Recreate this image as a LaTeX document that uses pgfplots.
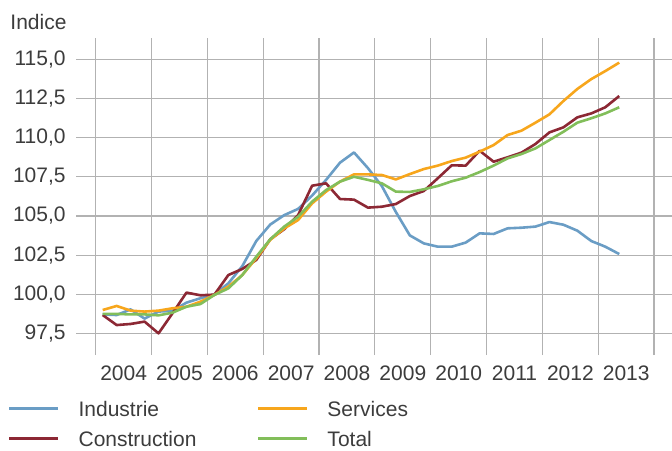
\documentclass[border=0pt]{standalone}
\usepackage{fontspec}
\setmainfont{Liberation Sans}
\usepackage{pgfplots}
\pgfplotsset{compat=1.18}
\usepackage{pgfplotstable}

\definecolor{txt}{RGB}{60,60,60}
\definecolor{gridc}{RGB}{178,178,178}
\definecolor{cind}{RGB}{106,157,197}
\definecolor{ccon}{RGB}{140,40,52}
\definecolor{cser}{RGB}{247,166,28}
\definecolor{ctot}{RGB}{130,190,90}

\pgfplotstableread{
x ind con ser tot
2004.125 98.72 98.68 99.00 98.75
2004.375 98.68 98.04 99.26 98.75
2004.625 99.04 98.11 98.96 98.72
2004.875 98.45 98.26 98.90 98.72
2005.125 98.90 97.51 98.96 98.66
2005.375 98.95 98.79 99.11 98.83
2005.625 99.47 100.11 99.21 99.21
2005.875 99.75 99.94 99.53 99.38
2006.125 99.98 99.98 99.96 99.96
2006.375 100.70 101.23 100.49 100.38
2006.625 101.80 101.62 101.23 101.23
2006.875 103.40 102.19 102.30 102.40
2007.125 104.45 103.51 103.47 103.51
2007.375 105.05 104.15 104.20 104.32
2007.625 105.45 105.06 104.74 104.95
2007.875 106.30 106.93 105.80 105.91
2008.125 107.30 107.08 106.55 106.65
2008.375 108.40 106.08 107.19 107.19
2008.625 109.05 106.04 107.65 107.50
2008.875 108.05 105.53 107.65 107.30
2009.125 106.90 105.59 107.61 107.08
2009.375 105.25 105.76 107.33 106.55
2009.625 103.76 106.27 107.67 106.53
2009.875 103.25 106.59 107.99 106.70
2010.125 103.04 107.40 108.21 106.91
2010.375 103.04 108.23 108.50 107.21
2010.625 103.30 108.21 108.72 107.44
2010.875 103.89 109.16 109.10 107.80
2011.125 103.85 108.46 109.52 108.21
2011.375 104.21 108.74 110.16 108.67
2011.625 104.25 109.04 110.44 108.95
2011.875 104.32 109.59 110.95 109.31
2012.125 104.61 110.33 111.48 109.84
2012.375 104.44 110.65 112.33 110.37
2012.625 104.06 111.29 113.10 110.95
2012.875 103.40 111.54 113.73 111.23
2013.125 103.04 111.93 114.24 111.54
2013.375 102.57 112.65 114.78 111.93
}\data

\begin{document}
\begin{tikzpicture}[font=\fontsize{10.5pt}{12.6pt}\selectfont]
\useasboundingbox (0,0) rectangle (336pt,225pt);
\begin{axis}[
  at={(38pt,47.5pt)}, anchor=south west,
  scale only axis, width=298pt, height=158.5pt,
  xmin=2003.647, xmax=2014.32, ymin=96.13, ymax=116.35,
  axis line style={draw=none},
  major tick length=0pt,
  xtick={2004,...,2014}, xticklabels={},
  extra x ticks={2004.5,2005.5,...,2013.5},
  extra x tick labels={2004,2005,2006,2007,2008,2009,2010,2011,2012,2013},
  extra x tick style={grid=none, major tick length=0pt},
  ytick={97.5,100,...,115},
  grid=major,
  major grid style={line width=0.6pt, color=gridc},
  tick label style={text=txt, inner sep=0pt},
  xticklabel shift=5pt, yticklabel shift=5pt,
  /pgf/number format/assume math mode=true,
  yticklabel style={/pgf/number format/.cd, fixed, fixed zerofill, precision=1, use comma, 1000 sep={}},
  ylabel={Indice},
  every axis y label/.style={at={(rel axis cs:-0.1107,1.052)}, anchor=west, inner sep=0pt, text=txt, rotate=0},
  legend columns=2, transpose legend,
  legend cell align=left,
  legend style={at={(rel axis cs:-0.1141,-0.1451)}, anchor=north west, draw=none, fill=none,
    inner sep=0pt, outer sep=0pt, row sep=7.3pt,
    nodes={inner sep=0pt, text=txt, text height=7.7pt, text depth=0pt},
    /tikz/every odd column/.append style={column sep=9.5pt},
    /tikz/every even column/.append style={column sep=30.2pt}},
  legend image code/.code={\draw[#1, line width=1.3pt] (0pt,0pt) -- (24.5pt,0pt);},
  every axis plot/.append style={line width=1.3pt, line join=round},
]
\addplot[cind, no marks] table[x=x, y=ind] {\data};
\addlegendentry{Industrie}
\addplot[ccon, no marks] table[x=x, y=con] {\data};
\addlegendentry{Construction}
\addplot[cser, no marks] table[x=x, y=ser] {\data};
\addlegendentry{Services}
\addplot[ctot, no marks] table[x=x, y=tot] {\data};
\addlegendentry{Total}
\end{axis}
\end{tikzpicture}
\end{document}
